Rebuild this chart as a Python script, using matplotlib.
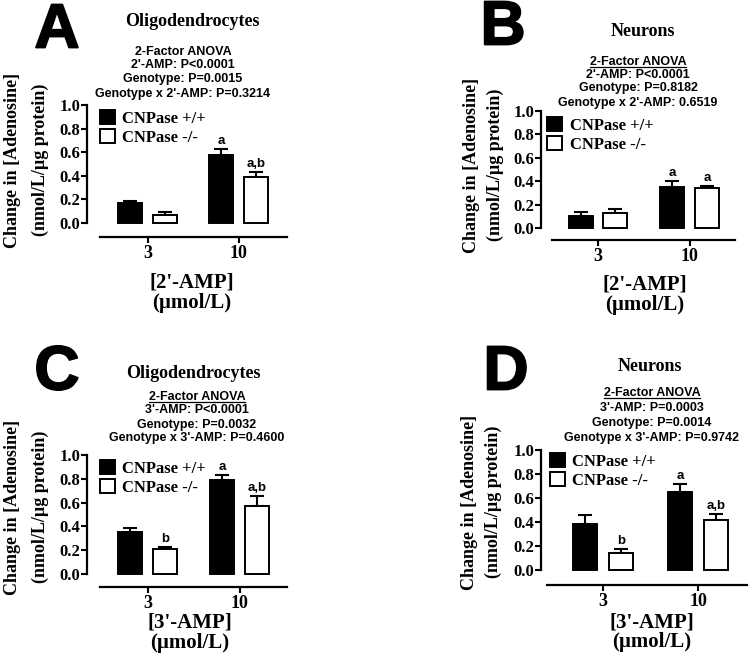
import matplotlib
matplotlib.use('Agg')
import matplotlib.pyplot as plt
import matplotlib.patheffects as pe
from matplotlib.lines import Line2D
import numpy as np

SERIF = 'Liberation Serif'
SANS = 'Liberation Sans'
plt.rcParams['font.family'] = SERIF
plt.rcParams['font.weight'] = 'bold'

# ---- data ----
doses = ['3', '10']
yticks = [0.0, 0.2, 0.4, 0.6, 0.8, 1.0]
legend_labels = ['CNPase +/+', 'CNPase -/-']

# A: oligodendrocytes, 2'-AMP
a_wt = [0.17, 0.575]
a_wt_sem = [0.02, 0.05]
a_ko = [0.065, 0.39]
a_ko_sem = [0.025, 0.045]
a_marks_wt = ['', 'a']
a_marks_ko = ['', 'a,b']
a_anova = ['2-Factor ANOVA', "2'-AMP: P<0.0001", 'Genotype: P=0.0015',
           "Genotype x 2'-AMP: P=0.3214"]

# B: neurons, 2'-AMP
b_wt = [0.10, 0.35]
b_wt_sem = [0.04, 0.05]
b_ko = [0.125, 0.34]
b_ko_sem = [0.035, 0.02]
b_marks_wt = ['', 'a']
b_marks_ko = ['', 'a']
b_anova = ['2-Factor ANOVA', "2'-AMP: P<0.0001", 'Genotype: P=0.8182',
           "Genotype x 2'-AMP: 0.6519"]

# C: oligodendrocytes, 3'-AMP
c_wt = [0.35, 0.79]
c_wt_sem = [0.04, 0.04]
c_ko = [0.21, 0.57]
c_ko_sem = [0.02, 0.085]
c_marks_wt = ['', 'a']
c_marks_ko = ['b', 'a,b']
c_anova = ['2-Factor ANOVA', "3'-AMP: P<0.0001", 'Genotype: P=0.0032',
           "Genotype x 3'-AMP: P=0.4600"]

# D: neurons, 3'-AMP
d_wt = [0.38, 0.65]
d_wt_sem = [0.08, 0.07]
d_ko = [0.14, 0.42]
d_ko_sem = [0.035, 0.045]
d_marks_wt = ['', 'a']
d_marks_ko = ['b', 'a,b']
d_anova = ['2-Factor ANOVA', "3'-AMP: P=0.0003", 'Genotype: P=0.0014',
           "Genotype x 3'-AMP: P=0.9742"]

W, H = 750, 655
fig = plt.figure(figsize=(W / 100, H / 100), dpi=100)


def fx(x):
    return x / W


def fy(y):
    return 1 - y / H


def panel(letter, title, agent, wt, wt_sem, ko, ko_sem, marks_wt, marks_ko, anova, lay):
    left, y1, y0, g0, unit = lay['left'], lay['y1'], lay['y0'], lay['g0'], lay['unit']
    xs, xe = lay['xline']
    ax = fig.add_axes([fx(left), fy(y0), (xe - left) / W, (y0 - y1) / H])
    ax.set_xlim((left - g0) / unit, (xe - g0) / unit)
    ax.set_ylim(0, 1.0)

    x = np.arange(len(doses))
    off, bw = 0.19, 0.26
    h1 = ax.bar(x - off, wt, bw, color='black', edgecolor='black', lw=1.4,
                clip_on=False, zorder=3)
    h2 = ax.bar(x + off, ko, bw, color='white', edgecolor='black', lw=1.4,
                clip_on=False, zorder=3)
    for xx, m, s in ((x - off, wt, wt_sem), (x + off, ko, ko_sem)):
        ax.errorbar(xx, m, yerr=[np.zeros(len(m)), s], fmt='none', ecolor='black',
                    elinewidth=1.5, capsize=5, capthick=1.5, zorder=2, clip_on=False)
    for xx, m, s, lab in ((x - off, wt, wt_sem, marks_wt), (x + off, ko, ko_sem, marks_ko)):
        for i in range(len(m)):
            if lab[i]:
                ax.text(xx[i], m[i] + s[i] + 0.015, lab[i], ha='center', va='bottom',
                        family=SANS, weight='bold', fontsize=9.5)

    for sp in ('top', 'right'):
        ax.spines[sp].set_visible(False)
    ax.spines['left'].set_linewidth(1.6)
    ax.spines['left'].set_bounds(0, 1.0)
    ax.spines['bottom'].set_linewidth(1.6)
    ax.spines['bottom'].set_position(('outward', lay['drop'] * 0.72))
    ax.spines['bottom'].set_bounds((xs - g0) / unit, (xe - g0) / unit)
    ax.set_yticks(yticks, ['%.1f' % v for v in yticks])
    ax.set_xticks(x, doses)
    ax.tick_params(axis='y', length=4, width=1.5, labelsize=12, pad=1)
    ax.tick_params(axis='x', length=4, width=1.5, labelsize=13, pad=2)

    ax.legend([h1, h2], legend_labels, loc='upper left',
              bbox_to_anchor=(fx(lay['legend'][0]), fy(lay['legend'][1])),
              bbox_transform=fig.transFigure, frameon=False, borderpad=0,
              borderaxespad=0, handlelength=0.9, handleheight=0.9,
              handletextpad=0.45, labelspacing=0.15,
              prop=dict(family=SERIF, weight='bold', size=12))

    lx, ly = lay['letter']
    fig.text(fx(lx), fy(ly), letter, ha='center', va='center', family=SANS,
             weight='bold', fontsize=45,
             path_effects=[pe.withStroke(linewidth=1.3, foreground='black')])
    fig.text(fx(lay['title'][0]), fy(lay['title'][1]), title, ha='center',
             va='center', fontsize=13)
    axc, arows = lay['anova']
    for k, line in enumerate(anova):
        t = fig.text(fx(axc), fy(arows[k]), line, ha='center', va='center',
                     family=SANS, weight='bold', fontsize=9)
        if k == 0 and lay['underline']:
            fig.canvas.draw()
            bb = t.get_window_extent().transformed(fig.transFigure.inverted())
            fig.add_artist(Line2D([bb.x0, bb.x1], [bb.y0 + 0.001, bb.y0 + 0.001],
                                  transform=fig.transFigure, color='black', lw=0.9))
    xc, xl1, xl2 = lay['xlab']
    fig.text(fx(xc), fy(xl1), '[%s]' % agent, ha='center', va='center', fontsize=15)
    fig.text(fx(xc), fy(xl2), '(\u00b5mol/L)', ha='center', va='center', fontsize=15)
    ya, yb, ycen = lay['ylab']
    fig.text(fx(ya), fy(ycen), 'Change in [Adenosine]', ha='center', va='center',
             rotation=90, fontsize=13)
    fig.text(fx(yb), fy(ycen), '(nmol/L/\u00b5g protein)', ha='center', va='center',
             rotation=90, fontsize=13)


lay_a = dict(left=87, y1=105, y0=223, g0=147.5, unit=91, drop=14, xline=(100, 287),
             letter=(57, 31), title=(192, 22), anova=(183, [52, 65, 79, 94]),
             underline=False, legend=(100, 110), xlab=(192, 283, 303), ylab=(13, 40, 160))
lay_b = dict(left=541, y1=111, y0=228, g0=598, unit=91.5, drop=12, xline=(552, 735),
             letter=(503, 28), title=(643, 32), anova=(638, [62, 75, 88, 103]),
             underline=True, legend=(547, 117), xlab=(645, 285, 305), ylab=(472, 495, 165))
lay_c = dict(left=87, y1=455, y0=574, g0=147.5, unit=92, drop=13, xline=(100, 287),
             letter=(57, 373), title=(193, 373), anova=(197, [397, 410, 425, 438]),
             underline=True, legend=(100, 460), xlab=(190, 623, 643), ylab=(13, 40, 507))
lay_d = dict(left=541, y1=450, y0=570, g0=603, unit=95, drop=15, xline=(547, 747),
             letter=(506, 373), title=(650, 367), anova=(652, [393, 408, 423, 438]),
             underline=True, legend=(550, 453), xlab=(652, 623, 642), ylab=(469, 493, 502))

panel('A', 'Oligodendrocytes', "2'-AMP", a_wt, a_wt_sem, a_ko, a_ko_sem,
      a_marks_wt, a_marks_ko, a_anova, lay_a)
panel('B', 'Neurons', "2'-AMP", b_wt, b_wt_sem, b_ko, b_ko_sem,
      b_marks_wt, b_marks_ko, b_anova, lay_b)
panel('C', 'Oligodendrocytes', "3'-AMP", c_wt, c_wt_sem, c_ko, c_ko_sem,
      c_marks_wt, c_marks_ko, c_anova, lay_c)
panel('D', 'Neurons', "3'-AMP", d_wt, d_wt_sem, d_ko, d_ko_sem,
      d_marks_wt, d_marks_ko, d_anova, lay_d)

fig.savefig('out.png', dpi=100)
